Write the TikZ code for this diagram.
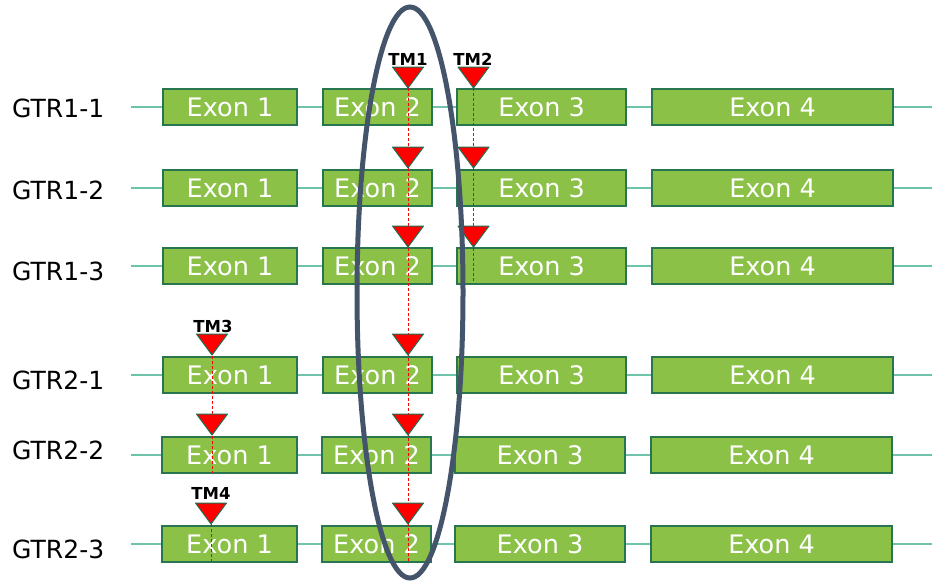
\documentclass[tikz,border=0pt]{standalone}
\usepackage{fontspec}
\setmainfont{DejaVu Sans}
\definecolor{exfill}{RGB}{139,193,71}
\definecolor{exbd}{RGB}{40,118,80}
\definecolor{intr}{RGB}{110,195,170}
\definecolor{ellc}{RGB}{68,84,106}
\definecolor{tmbd}{RGB}{30,110,80}
\begin{document}
\begin{tikzpicture}[x=1pt,y=-1pt,
 exon/.style={draw=exbd, fill=exfill, line width=1.2pt, text=white,
   font=\fontsize{25.5}{30}\selectfont, minimum height=36pt, inner sep=0pt},
 gtr/.style={anchor=west, font=\fontsize{25}{30}\selectfont, inner sep=0pt},
 tmlab/.style={font=\bfseries\fontsize{16.5}{20}\selectfont, inner sep=0pt},
 intron/.style={draw=intr, line width=1.4pt},
 cut/.style={draw=red, line width=1pt, dash pattern=on 3pt off 2pt},
 tmark/.pic={\filldraw[fill=red, draw=tmbd, line width=1pt, line join=round]
   (-15.5,0) -- (15.5,0) -- (0,21) -- cycle;},
]
\useasboundingbox (0,0) rectangle (932,584);
% rows 1-4
\foreach \r/\yc in {1/107,2/188,3/266,4/375}{
  \coordinate (L\r) at (131,\yc);
  \coordinate (R\r) at (932,\yc);
  \draw[intron] (L\r) -- (R\r);
  \node[exon, minimum width=134pt] (e\r a) at (230,\yc) {Exon 1};
  \node[exon, minimum width=109pt] (e\r b) at (377.5,\yc) {Exon 2};
  \node[exon, minimum width=169pt] (e\r c) at (541.5,\yc) {Exon 3};
  \node[exon, minimum width=241pt] (e\r d) at (772.5,\yc) {Exon 4};
}
% rows 5-6
\foreach \r/\yc in {5/455,6/544}{
  \coordinate (L\r) at (131,\yc);
  \coordinate (R\r) at (932,\yc);
  \draw[intron] (L\r) -- (R\r);
  \node[exon, minimum width=135pt] (e\r a) at (229.5,\yc) {Exon 1};
  \node[exon, minimum width=109pt] (e\r b) at (376.5,\yc) {Exon 2};
  \node[exon, minimum width=170pt] (e\r c) at (540,\yc) {Exon 3};
  \node[exon, minimum width=241pt] (e\r d) at (771.5,\yc) {Exon 4};
}
% row labels
\node[gtr] (g1) at (12,108.5) {GTR1-1};
\node[gtr] (g2) at (12,190.5) {GTR1-2};
\node[gtr] (g3) at (12,271) {GTR1-3};
\node[gtr] (g4) at (12,380) {GTR2-1};
\node[gtr] (g5) at (12,450) {GTR2-2};
\node[gtr] (g6) at (12,549.5) {GTR2-3};
% dashed mutation lines
\coordinate (d1t) at (408,88);  \coordinate (d1b) at (408,563);
\coordinate (d2t) at (473.5,88);  \coordinate (d2b) at (473.5,283);
\coordinate (d3t) at (212,356); \coordinate (d3b) at (212,473);
\coordinate (d4t) at (211,524); \coordinate (d4b) at (211,561);
\draw[cut] (d1t) -- (d1b);
\draw[cut] (d2t) -- (d2b);
\draw[cut] (d3t) -- (d3b);
\draw[cut] (d4t) -- (d4b);
% triangles
\foreach \yt in {67,147,226,334,414,503}{ \pic at (408,\yt) {tmark}; }
\foreach \yt in {67,147,226}{ \pic at (473.5,\yt) {tmark}; }
\foreach \yt in {334,414}{ \pic at (212,\yt) {tmark}; }
\pic at (211,503) {tmark};
% TM labels
\node[tmlab] (tm1) at (408,59) {TM1};
\node[tmlab] (tm2) at (473,59) {TM2};
\node[tmlab] (tm3) at (213,326) {TM3};
\node[tmlab] (tm4) at (211,493) {TM4};
% highlight ellipse
\draw[ellc, line width=5pt] (410,292.5) ellipse [x radius=53, y radius=285.5];
\end{tikzpicture}
\end{document}
